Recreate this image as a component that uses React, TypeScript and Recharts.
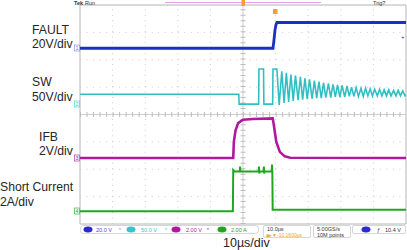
import { LineChart, Line, XAxis, YAxis, ReferenceLine, ReferenceArea } from "recharts";

// time in µs, values in V / A
const FAULT: [number, number][] = [[-50, 0], [9.2, 0], [9.5, 6], [9.8, 13], [10.1, 17], [10.4, 18.8], [50, 18.8]];

const SW: [number, number][] = [
  [-50, 18], [-1.3, 18], [-1.2, 0], [4.8, 0], [4.9, 64], [6.3, 64], [6.4, 0], [9.1, 0], [9.2, 64], [10.4, 64],
  [11.1, -2], [11.9, 60], [12.6, 2], [13.3, 57], [14.0, 4], [14.7, 54], [15.4, 6], [16.1, 52], [16.9, 7], [17.6, 50],
  [18.3, 8], [19.0, 47], [19.7, 9], [20.4, 45], [21.2, 10], [21.9, 43], [22.6, 11], [23.3, 41], [24.0, 11], [24.7, 39],
  [25.4, 12], [26.2, 38], [26.9, 12], [27.6, 36], [28.3, 13], [29.0, 35], [29.7, 13], [30.4, 34], [31.2, 13], [31.9, 33],
  [32.6, 14], [33.3, 31], [34.0, 14], [34.7, 30], [35.4, 14], [36.2, 29], [36.9, 14], [37.6, 29], [38.3, 15], [39.0, 28],
  [39.7, 15], [40.4, 27], [41.2, 15], [41.9, 27], [42.6, 15], [43.3, 26], [44.0, 15], [44.7, 26], [45.4, 15], [46.2, 25],
  [46.9, 15], [47.6, 25], [48.3, 15], [49.0, 24], [49.7, 15], [50, 17],
];

const IFB: [number, number][] = [
  [-50, 0], [-3.0, 0], [-2.8, 1.2], [-2.3, 2.0], [-1.5, 2.55], [0, 2.8], [3, 2.85], [9.1, 2.9],
  [9.4, 2.5], [10.2, 1.2], [11.3, 0.45], [12.8, 0.12], [14.5, 0.02], [50, 0],
];

const CURRENT: [number, number][] = [
  [-50, 0], [-3.1, 0], [-3.0, 3.0], [-2.6, 2.9], [-1.0, 2.9], [-0.9, 3.25], [-0.8, 2.9], [4.8, 2.9], [4.9, 3.25],
  [5.0, 2.75], [5.1, 2.9], [6.3, 2.9], [6.4, 3.25], [6.5, 2.75], [6.6, 2.9], [8.8, 2.9], [8.9, 3.4], [9.0, 2.9],
  [9.1, 0.1], [50, 0.1],
];

const T_TICKS = [-40, -30, -20, -10, 10, 20, 30, 40];
const DIV_TICKS = [1, 2, 3, 5, 6, 7];

// ground position (divisions from bottom) and units per division
const CHANNELS = {
  fault: { offset: 6.42, scale: 20, color: "#1c30c0" },
  sw: { offset: 4.38, scale: 50, color: "#30c0c4" },
  ifb: { offset: 2.41, scale: 2, color: "#b2189e" },
  cur: { offset: 0.47, scale: 2, color: "#22a622" },
};

const toDivs = (pts: [number, number][], ch: { offset: number; scale: number }) =>
  pts.map(([t, v]) => ({ t, d: ch.offset + v / ch.scale }));

const FONT = "'Liberation Sans', Arial, sans-serif";
const GRID = "#cccccc";

export default function App() {
  const labels = [
    { text: "FAULT", x: 32, y: 34 },
    { text: "20V/div", x: 32, y: 48 },
    { text: "SW", x: 32, y: 86 },
    { text: "50V/div", x: 32, y: 101 },
    { text: "IFB", x: 39, y: 141 },
    { text: "2V/div", x: 39, y: 155 },
    { text: "Short Current", x: 0, y: 191 },
    { text: "2A/div", x: 0, y: 206 },
  ];
  const markers = [
    { n: "1", y: 48, c: "#7a7ae8" },
    { n: "2", y: 104, c: "#40c8c8" },
    { n: "3", y: 158, c: "#b2189e" },
    { n: "4", y: 211, c: "#22a622" },
  ];

  return (
    <div style={{ position: "absolute", left: 0, top: 0, width: 407, height: 250, background: "#fff" }}>
      <LineChart width={407} height={250} margin={{ top: 5, left: 80, right: 1, bottom: 26 }}>
        <XAxis type="number" dataKey="t" domain={[-50, 50]} hide allowDataOverflow />
        <YAxis type="number" dataKey="d" domain={[0, 8]} hide allowDataOverflow />
        {T_TICKS.map((t) => (
          <ReferenceLine key={"x" + t} x={t} stroke={GRID} strokeDasharray="1 4.48" />
        ))}
        {DIV_TICKS.map((d) => (
          <ReferenceLine key={"y" + d} y={d} stroke={GRID} strokeDasharray="1 5.52" />
        ))}
        <ReferenceLine x={0} stroke="#cfcfcf" />
        <ReferenceLine x={0} stroke="#bcbcbc" strokeWidth={5} strokeDasharray="1 4.48" />
        <ReferenceLine y={4} stroke="#cfcfcf" />
        <ReferenceLine y={4} stroke="#bcbcbc" strokeWidth={5} strokeDasharray="1 5.52" />
        <ReferenceArea x1={-50} x2={50} y1={0} y2={8} fill="none" stroke="#b4b4b4" />
        <Line data={toDivs(CURRENT, CHANNELS.cur)} dataKey="d" type="linear" dot={false} stroke={CHANNELS.cur.color} strokeWidth={2} isAnimationActive={false} />
        <Line data={toDivs(IFB, CHANNELS.ifb)} dataKey="d" type="linear" dot={false} stroke={CHANNELS.ifb.color} strokeWidth={2.6} isAnimationActive={false} />
        <Line data={toDivs(SW, CHANNELS.sw)} dataKey="d" type="linear" dot={false} stroke={CHANNELS.sw.color} strokeWidth={1.6} isAnimationActive={false} />
        <Line data={toDivs(FAULT, CHANNELS.fault)} dataKey="d" type="linear" dot={false} stroke={CHANNELS.fault.color} strokeWidth={2.8} isAnimationActive={false} />
      </LineChart>

      <svg width={407} height={250} style={{ position: "absolute", left: 0, top: 0, pointerEvents: "none" }} fontFamily={FONT}>
        {labels.map((l) => (
          <text key={l.text} x={l.x} y={l.y} fontSize={12.2} fill="#262626">{l.text}</text>
        ))}
        <text x={223} y={247} fontSize={12.5} fill="#262626">10µs/div</text>

        {/* top status */}
        <text x={74} y={5} fontSize={5.5} fill="#333" fontWeight="bold">Tek</text>
        <text x={85} y={5} fontSize={5.5} fill="#333">Run</text>
        <text x={373} y={5} fontSize={5.5} fill="#333">Trig?</text>
        <line x1={165} x2={321} y1={2.5} y2={2.5} stroke="#e8a0e8" strokeWidth={1} />
        <rect x={241.5} y={0} width={3.5} height={6} fill="#f0a030" />
        <rect x={273} y={9} width={4.5} height={5} fill="#f0a030" />
        <text x={401} y={39} fontSize={6} fill="#1c30c0">+</text>

        {/* channel ground markers */}
        {markers.map((m) => (
          <g key={m.n}>
            <rect x={74.5} y={m.y - 3} width={5} height={6} fill="#fff" stroke={m.c} strokeWidth={0.6} />
            <text x={75.6} y={m.y + 2.2} fontSize={5.5} fill={m.c}>{m.n}</text>
          </g>
        ))}

        {/* bottom status bar */}
        <rect x={80.5} y={225.5} width={178} height={8} rx={3} fill="#fff" stroke="#bbb" strokeWidth={0.6} />
        <ellipse cx={88} cy={229.5} rx={4.5} ry={3} fill="#2a2ad0" />
        <text x={96} y={231.5} fontSize={5.5} fill="#4a4ae0">20.0 V</text>
        <text x={119} y={231.5} fontSize={5.5} fill="#8888e0">ⁿ</text>
        <ellipse cx={131} cy={229.5} rx={4.5} ry={3} fill="#30c8c8" />
        <text x={141} y={231.5} fontSize={5.5} fill="#30c8c8">50.0 V</text>
        <text x={165} y={231.5} fontSize={5.5} fill="#30c8c8">ⁿ</text>
        <ellipse cx={176} cy={229.5} rx={4.5} ry={3} fill="#b2189e" />
        <text x={186} y={231.5} fontSize={5.5} fill="#b2189e">2.00 V</text>
        <text x={207} y={231.5} fontSize={5.5} fill="#b2189e">ⁿ</text>
        <ellipse cx={222} cy={229.5} rx={4.5} ry={3} fill="#22a622" />
        <text x={231} y={231.5} fontSize={5.5} fill="#22a622">2.00 A</text>

        <rect x={263.5} y={225.5} width={47} height={12} rx={1.5} fill="#fff" stroke="#bbb" strokeWidth={0.6} />
        <text x={267} y={231} fontSize={5.5} fill="#333">10.0µs</text>
        <text x={266} y={236.5} fontSize={5} fill="#f0a030">■▸▼-10.1600µs</text>
        <rect x={313.5} y={225.5} width={37} height={12} rx={1.5} fill="#fff" stroke="#bbb" strokeWidth={0.6} />
        <text x={317} y={231} fontSize={5.5} fill="#333">5.00GS/s</text>
        <text x={317} y={236.5} fontSize={5.5} fill="#333">10M points</text>
        <rect x={352.5} y={225.5} width={53} height={8} rx={1.5} fill="#fff" stroke="#bbb" strokeWidth={0.6} />
        <ellipse cx={366} cy={229.5} rx={4.5} ry={3} fill="#2a2ad0" />
        <text x={377} y={231.5} fontSize={5.5} fill="#333">ƒ</text>
        <text x={385} y={231.5} fontSize={5.5} fill="#333">10.4 V</text>
      </svg>
    </div>
  );
}
